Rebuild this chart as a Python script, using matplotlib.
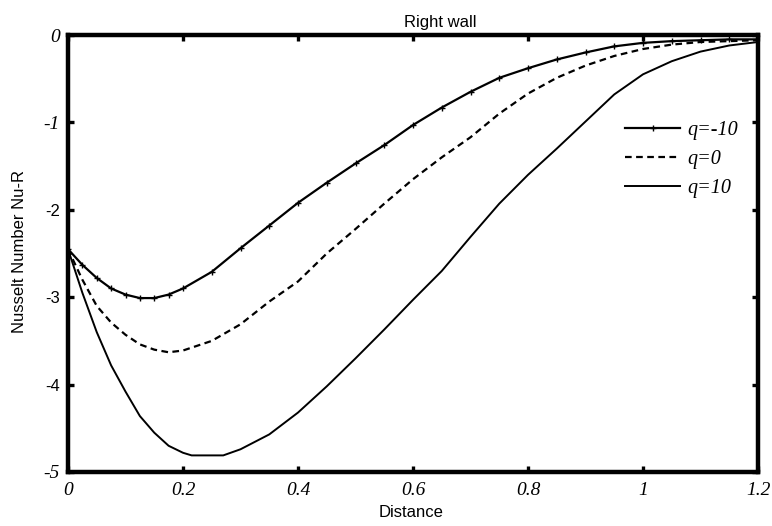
import matplotlib
matplotlib.use("Agg")
import matplotlib.pyplot as plt

# ---- data ----
x_m10 = [0, 0.025, 0.05, 0.075, 0.1, 0.125, 0.15, 0.175, 0.2, 0.25, 0.3, 0.35, 0.4, 0.45,
         0.5, 0.55, 0.6, 0.65, 0.7, 0.75, 0.8, 0.85, 0.9, 0.95, 1.0, 1.05, 1.1, 1.15, 1.2]
y_m10 = [-2.45, -2.63, -2.78, -2.90, -2.97, -3.01, -3.01, -2.97, -2.90, -2.71, -2.44, -2.18,
         -1.92, -1.69, -1.47, -1.26, -1.03, -0.83, -0.65, -0.49, -0.38, -0.28, -0.20, -0.13,
         -0.09, -0.07, -0.06, -0.05, -0.05]

x_0 = [0, 0.025, 0.05, 0.075, 0.1, 0.125, 0.15, 0.175, 0.2, 0.25, 0.3, 0.35, 0.4, 0.45,
       0.5, 0.55, 0.6, 0.65, 0.7, 0.75, 0.8, 0.85, 0.9, 0.95, 1.0, 1.05, 1.1, 1.15, 1.2]
y_0 = [-2.45, -2.80, -3.10, -3.29, -3.43, -3.54, -3.60, -3.63, -3.61, -3.50, -3.31, -3.05,
       -2.82, -2.50, -2.22, -1.93, -1.65, -1.40, -1.17, -0.90, -0.67, -0.49, -0.35, -0.24,
       -0.16, -0.11, -0.08, -0.07, -0.06]

x_p10 = [0, 0.025, 0.05, 0.075, 0.1, 0.125, 0.15, 0.175, 0.2, 0.215, 0.27, 0.3, 0.35, 0.4,
         0.45, 0.5, 0.55, 0.6, 0.65, 0.7, 0.75, 0.8, 0.85, 0.9, 0.95, 1.0, 1.05, 1.1, 1.15, 1.2]
y_p10 = [-2.45, -2.95, -3.40, -3.78, -4.08, -4.36, -4.55, -4.70, -4.78, -4.81, -4.81, -4.74,
         -4.57, -4.32, -4.02, -3.70, -3.37, -3.03, -2.70, -2.31, -1.93, -1.60, -1.30, -0.99,
         -0.68, -0.45, -0.30, -0.19, -0.12, -0.08]

series_labels = ["q=-10", "q=0", "q=10"]
xtick_vals = [0, 0.2, 0.4, 0.6, 0.8, 1.0, 1.2]
xtick_labels = ["0", "0.2", "0.4", "0.6", "0.8", "1", "1.2"]
ytick_vals = [-5, -4, -3, -2, -1, 0]
ytick_labels = ["-5", "-4", "-3", "-2", "-1", "0"]

# ---- figure ----
W, H = 772, 526
fig = plt.figure(figsize=(W / 100, H / 100), dpi=100)
L, R, T, B = 68, 758, 35, 472
ax = fig.add_axes([L / W, 1 - B / H, (R - L) / W, (B - T) / H])

ax.plot(x_m10, y_m10, color="black", lw=1.6, marker="+", ms=4, mew=1.0, label=series_labels[0])
ax.plot(x_0, y_0, color="black", lw=1.6, linestyle=(0, (3, 2)), label=series_labels[1])
ax.plot(x_p10, y_p10, color="black", lw=1.4, label=series_labels[2])

ax.set_xlim(0, 1.2)
ax.set_ylim(-5, 0)

for s in ax.spines.values():
    s.set_linewidth(3.2)
    s.set_color("black")

ax.tick_params(direction="in", length=4, width=2.4, top=True, right=True, colors="black")
ax.tick_params(axis="x", pad=7)
ax.tick_params(axis="y", pad=6)

ax.set_xticks(xtick_vals)
ax.set_xticklabels(xtick_labels)
ax.set_yticks(ytick_vals)
ax.set_yticklabels(ytick_labels)

serif_it = dict(family="Liberation Serif", style="italic", size=14.5)
for t in ax.get_xticklabels():
    t.set_fontfamily("Liberation Serif")
    t.set_fontstyle("italic")
    t.set_fontsize(14)
for t in ax.get_yticklabels():
    if t.get_text() in ("-2", "-3", "-4"):
        t.set_fontfamily("Liberation Sans")
        t.set_fontstyle("normal")
        t.set_fontsize(12)
    else:
        t.set_fontfamily("Liberation Serif")
        t.set_fontstyle("italic")
        t.set_fontsize(14)

ax.set_title("Right wall", family="Liberation Sans", fontsize=12, x=(440 - L) / (R - L), pad=6)
ax.set_xlabel("Distance", family="Liberation Sans", fontsize=12)
ax.set_ylabel("Nusselt Number Nu-R", family="Liberation Sans", fontsize=12)
ax.xaxis.set_label_coords(0.497, (B - 505) / (B - T))
ax.yaxis.set_label_coords((27 - L) / (R - L), 0.505)

leg = ax.legend(loc="upper left", bbox_to_anchor=(625 / W, 1 - 121 / H),
                bbox_transform=fig.transFigure, frameon=False, borderpad=0,
                borderaxespad=0, handlelength=2.75, handletextpad=0.35,
                labelspacing=0.5, prop=serif_it)

fig.savefig("out.png", dpi=100)
